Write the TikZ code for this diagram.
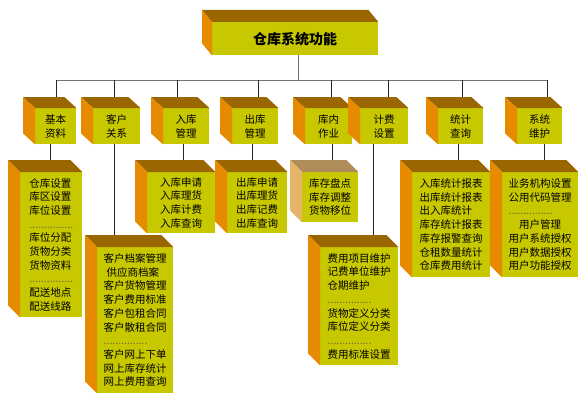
\documentclass[tikz,border=0pt]{standalone}
\usepackage{fontspec}
\setmainfont{Noto Sans CJK SC}
\definecolor{frontc}{RGB}{200,200,0}
\definecolor{topc}{RGB}{153,102,0}
\definecolor{sidec}{RGB}{230,138,0}
\definecolor{fadetop}{RGB}{176,140,90}
\definecolor{fadeside}{RGB}{230,180,104}
\definecolor{dotc}{RGB}{110,110,60}
\newcommand{\dotrow}{\textcolor{dotc}{...............}}

\begin{document}
\begin{tikzpicture}[x=1pt,y=-1pt,
  face/.style={fill=frontc, inner sep=0pt, anchor=north west,
    font=\fontsize{10.5}{13.7}\selectfont},
  cat/.style={face, minimum height=36, align=center},
  list/.style={face, align=left},
  topface/.style={fill=topc},
  sideface/.style={fill=sidec},
  bus/.style={draw=black!55, line width=1pt},
  stem/.style={draw=black!85, line width=1pt}]
\useasboundingbox (0,0) rectangle (588,404);
% top box
\node[face, minimum width=166, minimum height=33,
  font=\fontsize{14}{16}\selectfont\bfseries] (top) at (212,22) {仓库系统功能};
% second row
\node[cat, minimum width=41] (jbzl) at (35,108) {基本\\资料};
\node[cat, minimum width=47] (khgx) at (93,108) {客户\\关系};
\node[cat, minimum width=46] (rkgl) at (163,108) {入库\\管理};
\node[cat, minimum width=46] (ckgl) at (232,108) {出库\\管理};
\node[cat, minimum width=47] (knzy) at (305,108) {库内\\作业};
\node[cat, minimum width=48] (jfsz) at (360,108) {计费\\设置};
\node[cat, minimum width=45] (tjcx) at (438,108) {统计\\查询};
\node[cat, minimum width=45] (xtwh) at (517,108) {系统\\维护};
% lists
\node[list, minimum width=62, minimum height=145] (jbzlList) at (20,172)
  {仓库设置\\库区设置\\库位设置\\\dotrow\\库位分配\\货物分类\\货物资料\\\dotrow\\配送地点\\配送线路};
\node[list, minimum width=76, minimum height=146] (khgxList) at (97,247)
  {客户档案管理\\\hspace*{3pt}供应商档案\\客户货物管理\\客户费用标准\\客户包租合同\\客户散租合同\\\dotrow\\客户网上下单\\网上库存统计\\网上费用查询};
\node[list, minimum width=68, minimum height=61] (rkglList) at (147,172)
  {入库申请\\入库理货\\入库计费\\入库查询};
\node[list, minimum width=60, minimum height=61] (ckglList) at (227,172)
  {出库申请\\出库理货\\出库记费\\出库查询};
\node[list, minimum width=56, minimum height=50] (knzyList) at (302,172)
  {库存盘点\\库存调整\\货物移位};
\node[list, minimum width=78, minimum height=118] (jfszList) at (320,247)
  {费用项目维护\\记费单位维护\\仓期维护\\\dotrow\\货物定义分类\\库位定义分类\\\dotrow\\费用标准设置};
\node[list, minimum width=78, minimum height=105] (tjcxList) at (412,172)
  {入库统计报表\\出库统计报表\\出入库统计\\库存统计报表\\库存报警查询\\仓租数量统计\\仓库费用统计};
\node[list, minimum width=76, minimum height=105] (xtwhList) at (502,172)
  {业务机构设置\\公用代码管理\\\dotrow\\\hspace*{10.5pt}用户管理\\用户系统授权\\用户数据授权\\用户功能授权};
% connectors
\coordinate (hub) at (298,80);
\coordinate (b1) at (56,80);
\coordinate (b2) at (114,80);
\coordinate (b3) at (177,80);
\coordinate (b4) at (258,80);
\coordinate (b5) at (331,80);
\coordinate (b6) at (388,80);
\coordinate (b7) at (462,80);
\coordinate (b8) at (547,80);
\draw[bus] (hub |- top.south) -- (hub);
\draw[bus] (b1) -- (b8);
\draw[stem] (b1) -- (b1 |- jbzl.north);
\draw[stem] (b2) -- (b2 |- khgx.north);
\draw[stem] (b3) -- (b3 |- rkgl.north);
\draw[stem] (b4) -- (b4 |- ckgl.north);
\draw[stem] (b5) -- (b5 |- knzy.north);
\draw[stem] (b6) -- (b6 |- jfsz.north);
\draw[stem] (b7) -- (b7 |- tjcx.north);
\draw[stem] (b8) -- (b8 |- xtwh.north);
\coordinate (c1) at (50,144);
\coordinate (c2) at (114,144);
\coordinate (c3) at (183,144);
\coordinate (c4) at (252,144);
\coordinate (c5) at (332,144);
\coordinate (c6) at (373,144);
\coordinate (c7) at (458,144);
\coordinate (c8) at (544,144);
\draw[stem] (c1) -- (c1 |- jbzlList.north);
\draw[stem] (c2) -- (c2 |- khgxList.north);
\draw[stem] (c3) -- (c3 |- rkglList.north);
\draw[stem] (c4) -- (c4 |- ckglList.north);
\draw[stem] (c5) -- (c5 |- knzyList.north);
\draw[stem] (c6) -- (c6 |- jfszList.north);
\draw[stem] (c7) -- (c7 |- tjcxList.north);
\draw[stem] (c8) -- (c8 |- xtwhList.north);
% box tops and sides
\fill[topface] (top.north west) -- ++(-10,-12) -- ([shift={(-10,-12)}]top.north east) -- (top.north east) -- cycle;
\fill[sideface] (top.north west) -- ++(-10,-12) -- ([shift={(-10,-12)}]top.south west) -- (top.south west) -- cycle;
\fill[topface] (jbzl.north west) -- ++(-12,-11) -- ([shift={(-12,-11)}]jbzl.north east) -- (jbzl.north east) -- cycle;
\fill[sideface] (jbzl.north west) -- ++(-12,-11) -- ([shift={(-12,-11)}]jbzl.south west) -- (jbzl.south west) -- cycle;
\fill[topface] (khgx.north west) -- ++(-12,-11) -- ([shift={(-12,-11)}]khgx.north east) -- (khgx.north east) -- cycle;
\fill[sideface] (khgx.north west) -- ++(-12,-11) -- ([shift={(-12,-11)}]khgx.south west) -- (khgx.south west) -- cycle;
\fill[topface] (rkgl.north west) -- ++(-12,-11) -- ([shift={(-12,-11)}]rkgl.north east) -- (rkgl.north east) -- cycle;
\fill[sideface] (rkgl.north west) -- ++(-12,-11) -- ([shift={(-12,-11)}]rkgl.south west) -- (rkgl.south west) -- cycle;
\fill[topface] (ckgl.north west) -- ++(-12,-11) -- ([shift={(-12,-11)}]ckgl.north east) -- (ckgl.north east) -- cycle;
\fill[sideface] (ckgl.north west) -- ++(-12,-11) -- ([shift={(-12,-11)}]ckgl.south west) -- (ckgl.south west) -- cycle;
\fill[topface] (knzy.north west) -- ++(-12,-11) -- ([shift={(-12,-11)}]knzy.north east) -- (knzy.north east) -- cycle;
\fill[sideface] (knzy.north west) -- ++(-12,-11) -- ([shift={(-12,-11)}]knzy.south west) -- (knzy.south west) -- cycle;
\fill[topface] (jfsz.north west) -- ++(-12,-11) -- ([shift={(-12,-11)}]jfsz.north east) -- (jfsz.north east) -- cycle;
\fill[sideface] (jfsz.north west) -- ++(-12,-11) -- ([shift={(-12,-11)}]jfsz.south west) -- (jfsz.south west) -- cycle;
\fill[topface] (tjcx.north west) -- ++(-12,-11) -- ([shift={(-12,-11)}]tjcx.north east) -- (tjcx.north east) -- cycle;
\fill[sideface] (tjcx.north west) -- ++(-12,-11) -- ([shift={(-12,-11)}]tjcx.south west) -- (tjcx.south west) -- cycle;
\fill[topface] (xtwh.north west) -- ++(-12,-11) -- ([shift={(-12,-11)}]xtwh.north east) -- (xtwh.north east) -- cycle;
\fill[sideface] (xtwh.north west) -- ++(-12,-11) -- ([shift={(-12,-11)}]xtwh.south west) -- (xtwh.south west) -- cycle;
\fill[topface] (jbzlList.north west) -- ++(-12,-12) -- ([shift={(-12,-12)}]jbzlList.north east) -- (jbzlList.north east) -- cycle;
\fill[sideface] (jbzlList.north west) -- ++(-12,-12) -- ([shift={(-12,-12)}]jbzlList.south west) -- (jbzlList.south west) -- cycle;
\fill[topface] (khgxList.north west) -- ++(-12,-12) -- ([shift={(-12,-12)}]khgxList.north east) -- (khgxList.north east) -- cycle;
\fill[sideface] (khgxList.north west) -- ++(-12,-12) -- ([shift={(-12,-12)}]khgxList.south west) -- (khgxList.south west) -- cycle;
\fill[topface] (rkglList.north west) -- ++(-12,-12) -- ([shift={(-12,-12)}]rkglList.north east) -- (rkglList.north east) -- cycle;
\fill[sideface] (rkglList.north west) -- ++(-12,-12) -- ([shift={(-12,-12)}]rkglList.south west) -- (rkglList.south west) -- cycle;
\fill[topface] (ckglList.north west) -- ++(-12,-12) -- ([shift={(-12,-12)}]ckglList.north east) -- (ckglList.north east) -- cycle;
\fill[sideface] (ckglList.north west) -- ++(-12,-12) -- ([shift={(-12,-12)}]ckglList.south west) -- (ckglList.south west) -- cycle;
\fill[fadetop] (knzyList.north west) -- ++(-12,-12) -- ([shift={(-12,-12)}]knzyList.north east) -- (knzyList.north east) -- cycle;
\fill[fadeside] (knzyList.north west) -- ++(-12,-12) -- ([shift={(-12,-12)}]knzyList.south west) -- (knzyList.south west) -- cycle;
\fill[topface] (jfszList.north west) -- ++(-12,-12) -- ([shift={(-12,-12)}]jfszList.north east) -- (jfszList.north east) -- cycle;
\fill[sideface] (jfszList.north west) -- ++(-12,-12) -- ([shift={(-12,-12)}]jfszList.south west) -- (jfszList.south west) -- cycle;
\fill[topface] (tjcxList.north west) -- ++(-12,-12) -- ([shift={(-12,-12)}]tjcxList.north east) -- (tjcxList.north east) -- cycle;
\fill[sideface] (tjcxList.north west) -- ++(-12,-12) -- ([shift={(-12,-12)}]tjcxList.south west) -- (tjcxList.south west) -- cycle;
\fill[topface] (xtwhList.north west) -- ++(-12,-12) -- ([shift={(-12,-12)}]xtwhList.north east) -- (xtwhList.north east) -- cycle;
\fill[sideface] (xtwhList.north west) -- ++(-12,-12) -- ([shift={(-12,-12)}]xtwhList.south west) -- (xtwhList.south west) -- cycle;
\end{tikzpicture}
\end{document}
